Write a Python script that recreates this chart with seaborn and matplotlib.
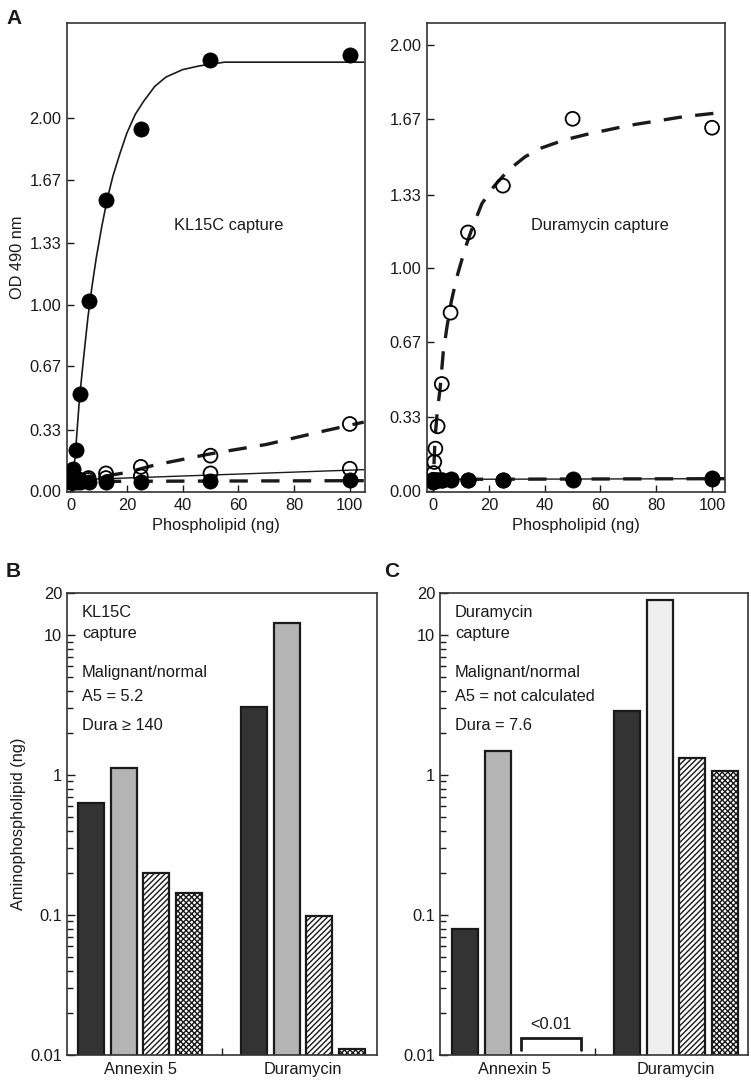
import numpy as np
import pandas as pd
import matplotlib
matplotlib.use("Agg")
import matplotlib.pyplot as plt
from matplotlib.ticker import FixedLocator, NullFormatter
import seaborn as sns

# ---------------- panel A data ----------------
kl_x = [0, 0.2, 0.4, 0.8, 1.6, 3.1, 6.25, 12.5, 25, 50, 100]
kl_filled_hi = [0.05, 0.06, 0.08, 0.12, 0.22, 0.52, 1.02, 1.56, 1.94, 2.31, 2.34]
kl_open_dash = [0.05, 0.05, 0.05, 0.06, 0.06, 0.06, 0.07, 0.095, 0.13, 0.19, 0.36]
kl_open_solid = [0.05, 0.05, 0.05, 0.05, 0.05, 0.06, 0.06, 0.07, 0.08, 0.095, 0.12]
kl_filled_lo = [0.05, 0.05, 0.05, 0.05, 0.05, 0.05, 0.05, 0.05, 0.05, 0.055, 0.06]

kl_fit1_x = [0.5, 1.5, 3, 4.5, 6, 7.5, 9, 11, 13, 15, 17.5, 20, 23, 26, 30, 34, 40, 46, 55, 70, 105]
kl_fit1_y = [0.05, 0.2, 0.5, 0.72, 0.93, 1.1, 1.25, 1.42, 1.57, 1.69, 1.81, 1.92, 2.02, 2.09,
             2.17, 2.22, 2.26, 2.28, 2.30, 2.30, 2.30]
kl_fit2_x = [12, 20, 30, 40, 50, 60, 70, 80, 90, 105]
kl_fit2_y = [0.08, 0.10, 0.14, 0.17, 0.20, 0.225, 0.25, 0.285, 0.32, 0.37]
kl_fit3_x = [0, 105]
kl_fit3_y = [0.06, 0.115]
kl_fit4_x = [0, 105]
kl_fit4_y = [0.052, 0.056]

du_x = [0, 0.2, 0.4, 0.8, 1.6, 3.1, 6.25, 12.5, 25, 50, 100]
du_open_dash = [0.05, 0.08, 0.13, 0.19, 0.29, 0.48, 0.80, 1.16, 1.37, 1.67, 1.63]
du_filled_a = [0.05, 0.05, 0.05, 0.05, 0.05, 0.05, 0.055, 0.05, 0.05, 0.055, 0.06]
du_filled_b = [0.04, 0.045, 0.05, 0.05, 0.05, 0.05, 0.05, 0.05, 0.05, 0.05, 0.055]

du_fit1_x = [0.3, 0.7, 1.5, 2.5, 3.6, 5, 6.5, 8.5, 11.5, 14, 17.5, 22, 27, 33, 39, 47, 55, 70, 90, 104.6]
du_fit1_y = [0.12, 0.24, 0.36, 0.46, 0.62, 0.74, 0.85, 0.96, 1.09, 1.18, 1.29, 1.37, 1.44, 1.50,
             1.54, 1.575, 1.60, 1.64, 1.68, 1.70]
du_fit2_x = [0, 105]
du_fit2_y = [0.052, 0.055]

od_ticks = [0.0, 0.33, 0.67, 1.0, 1.33, 1.67, 2.0]
od_labels = ["0.00", "0.33", "0.67", "1.00", "1.33", "1.67", "2.00"]
x_ticks = [0, 20, 40, 60, 80, 100]

# ---------------- panels B, C data ----------------
groups = ["Annexin 5", "Duramycin"]
conds = ["Malignant 1", "Malignant 2", "Normal 1", "Normal 2"]
b_annexin = [0.63, 1.12, 0.20, 0.144]
b_duramycin = [3.06, 12.2, 0.098, 0.011]
c_annexin = [0.079, 1.48, np.nan, np.nan]
c_duramycin = [2.87, 17.8, 1.32, 1.07]

bar_fill = {"Malignant 1": "#333333", "Malignant 2": "#b4b4b4", "Normal 1": "white", "Normal 2": "white"}
bar_hatch = {"Malignant 1": "", "Malignant 2": "", "Normal 1": "//////", "Normal 2": "xxxxxx"}
c_light = "#efefef"   # second Duramycin bar in C is paler

log_ticks = [0.01, 0.1, 1, 10, 20]
log_labels = ["0.01", "0.1", "1", "10", "20"]
Y_FLOOR = 0.001

INK = "#1a1a1a"
FS = 11.8
sns.set_theme(style="ticks")
plt.rcParams.update({
    "font.family": ["Liberation Sans", "DejaVu Sans"],
    "font.size": FS,
    "text.color": INK,
    "axes.labelcolor": INK,
    "xtick.color": INK,
    "ytick.color": INK,
    "axes.edgecolor": "#333333",
    "axes.linewidth": 1.2,
    "xtick.direction": "in",
    "ytick.direction": "in",
    "hatch.linewidth": 1.0,
})

fig = plt.figure(figsize=(7.51, 10.8), dpi=100)
ax_a1 = fig.add_axes([0.0892, 0.5444, 0.397, 0.4343])
ax_a2 = fig.add_axes([0.5686, 0.5444, 0.397, 0.4343])
ax_b = fig.add_axes([0.0892, 0.02315, 0.4128, 0.4278])
ax_c = fig.add_axes([0.5859, 0.02315, 0.4101, 0.4278])

DASH = (0, (5.5, 4))


def scatter(ax, x, y, filled):
    if filled:
        sns.scatterplot(x=x, y=y, ax=ax, s=120, color="black", edgecolor="black",
                        linewidth=0.5, zorder=4, legend=False)
    else:
        sns.scatterplot(x=x, y=y, ax=ax, s=100, facecolors="none", edgecolor="black",
                        linewidth=1.3, zorder=4, legend=False)


def style_od(ax, ylim):
    ax.set_xlim(-1.5, 105.5)
    ax.set_ylim(*ylim)
    ax.set_xticks(x_ticks)
    ax.set_yticks(od_ticks)
    ax.set_yticklabels(od_labels)
    ax.tick_params(axis="both", length=5, width=1, labelsize=FS, pad=4)
    ax.set_xlabel("Phospholipid (ng)", fontsize=FS, labelpad=4)
    for s in ax.spines.values():
        s.set_visible(True)


# ---- A left: KL15C capture
ax = ax_a1
ax.plot(kl_fit1_x, kl_fit1_y, color=INK, lw=1.2, zorder=2)
ax.plot(kl_fit2_x, kl_fit2_y, color=INK, lw=2.4, ls=DASH, zorder=2)
ax.plot(kl_fit3_x, kl_fit3_y, color=INK, lw=1.0, zorder=2)
ax.plot(kl_fit4_x, kl_fit4_y, color=INK, lw=2.4, ls=DASH, zorder=2)
scatter(ax, kl_x, kl_open_dash, False)
scatter(ax, kl_x, kl_open_solid, False)
scatter(ax, kl_x, kl_filled_lo, True)
scatter(ax, kl_x, kl_filled_hi, True)
style_od(ax, (-0.005, 2.51))
ax.set_ylabel("OD 490 nm", fontsize=FS, labelpad=3)
ax.text(0.544, 0.569, "KL15C capture", transform=ax.transAxes, ha="center", va="center", fontsize=FS)

# ---- A right: Duramycin capture
ax = ax_a2
ax.plot(du_fit1_x, du_fit1_y, color=INK, lw=2.4, ls=DASH, zorder=2)
ax.plot(du_fit2_x, du_fit2_y, color=INK, lw=1.0, zorder=2)
ax.plot(du_fit2_x, du_fit2_y, color=INK, lw=2.4, ls=DASH, zorder=2)
scatter(ax, du_x, du_open_dash, False)
scatter(ax, du_x, du_filled_b, True)
scatter(ax, du_x, du_filled_a, True)
style_od(ax, (-0.005, 2.10))
ax.set_xlim(-2.2, 104.7)
ax.set_ylabel("")
ax.text(0.58, 0.569, "Duramycin capture", transform=ax.transAxes, ha="center", va="center", fontsize=FS)


# ---- B, C bar panels
def bar_panel(ax, annexin, duramycin, light_second_dura, lines, xlim):
    df = pd.DataFrame({
        "group": np.repeat(groups, len(conds)),
        "cond": conds * len(groups),
        "value": list(annexin) + list(duramycin),
    }).dropna()
    sns.barplot(data=df, x="group", y="value", hue="cond", order=groups, hue_order=conds,
                errorbar=None, width=0.8, gap=0.2, log_scale=True, saturation=1,
                legend=False, ax=ax)
    for cont, cond in zip(ax.containers, [c for c in conds if c in set(df["cond"])]):
        for patch in cont.patches:
            g = int(round(patch.get_x() + patch.get_width() / 2))
            # bars start at 0, which a log axis cannot show: lift the base below the axis
            top = patch.get_y() + patch.get_height()
            patch.set_y(Y_FLOOR)
            patch.set_height(top - Y_FLOOR)
            fc = bar_fill[cond]
            if light_second_dura and g == 1 and cond == "Malignant 2":
                fc = c_light
            patch.set_facecolor(fc)
            patch.set_edgecolor(INK)
            patch.set_linewidth(1.6)
            patch.set_hatch(bar_hatch[cond])
    ax.set_ylim(0.01, 20)
    ax.set_xlim(*xlim)
    ax.yaxis.set_major_locator(FixedLocator(log_ticks))
    ax.set_yticklabels(log_labels)
    minors = [m * 10.0 ** e for e in (-2, -1, 0, 1) for m in range(2, 10) if m * 10.0 ** e < 20]
    ax.yaxis.set_minor_locator(FixedLocator(minors))
    ax.yaxis.set_minor_formatter(NullFormatter())
    ax.tick_params(axis="y", which="major", length=6, width=1, labelsize=FS)
    ax.tick_params(axis="y", which="minor", length=4, width=1)
    ax.set_xticks([0, 1])
    ax.set_xticklabels(groups)
    ax.tick_params(axis="x", which="major", length=0, labelsize=FS, pad=5)
    ax.xaxis.set_minor_locator(FixedLocator([0.5]))
    ax.tick_params(axis="x", which="minor", length=5, width=1)
    ax.set_xlabel("")
    for s in ax.spines.values():
        s.set_visible(True)
        s.set_zorder(5)
    ys = [0.957, 0.913, 0.827, 0.775, 0.714]
    for y, t in zip(ys, lines):
        ax.text(0.048, y, t, transform=ax.transAxes, ha="left", va="center", fontsize=FS)


bar_panel(ax_b, b_annexin, b_duramycin, False,
          ["KL15C", "capture", "Malignant/normal", "A5 = 5.2", "Dura \u2265 140"], (-0.448, 1.454))
ax_b.set_ylabel("Aminophospholipid (ng)", fontsize=FS, labelpad=3)

bar_panel(ax_c, c_annexin, c_duramycin, True,
          ["Duramycin", "capture", "Malignant/normal", "A5 = not calculated", "Dura = 7.6"], (-0.457, 1.444))
ax_c.set_ylabel("")
# "<0.01" bracket over the two missing Annexin 5 bars
ax_c.plot([0.045, 0.045, 0.415, 0.415], [0.0108, 0.0132, 0.0132, 0.0108], color=INK, lw=2.0,
          solid_joinstyle="miter")
ax_c.text(0.23, 0.0145, "<0.01", ha="center", va="bottom", fontsize=FS)

# panel letters
fig.text(0.008, 0.992, "A", fontsize=15, fontweight="bold", va="top")
fig.text(0.008, 0.48, "B", fontsize=15, fontweight="bold", va="top")
fig.text(0.512, 0.48, "C", fontsize=15, fontweight="bold", va="top")

fig.savefig("out.png", dpi=100)
